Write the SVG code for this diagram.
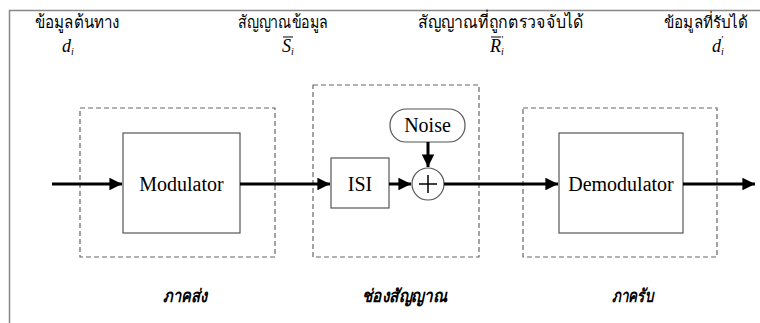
<svg xmlns="http://www.w3.org/2000/svg" width="760" height="323" viewBox="0 0 760 323">
<defs>
<style>
.lat{font-family:"Liberation Serif","Times New Roman",serif;font-size:20px;fill:#000}
.th{font-family:"Liberation Serif","Noto Sans","DejaVu Sans",sans-serif;font-size:18px;fill:#000}
.thb{font-family:"Liberation Serif","Noto Sans","DejaVu Sans",sans-serif;font-size:18px;font-style:italic;font-weight:bold;fill:#000}
.sym{font-family:"Liberation Serif",serif;font-style:italic;font-size:18px;fill:#000}
.sub{font-size:10px}
.dash{fill:none;stroke:#666;stroke-width:1.2;stroke-dasharray:5,3}
.box{fill:#fff;stroke:#555;stroke-width:1.2}
.wire{fill:none;stroke:#000;stroke-width:3}
</style>
<marker id="ah" viewBox="0 0 10 10" refX="10" refY="5" markerWidth="4.2" markerHeight="4.2" markerUnits="strokeWidth" orient="auto">
<path d="M0,0 L10,5 L0,10 Z" fill="#000"/>
</marker>
</defs>
<rect width="760" height="323" fill="#fff"/>
<path d="M9.5,323 V10.5 H760" fill="none" stroke="#888" stroke-width="1.5"/>

<g id="labels-top">
<text class="th" x="35" y="28" textLength="85" lengthAdjust="spacingAndGlyphs">ข้อมูลต้นทาง</text>
<text class="th" x="238" y="28" textLength="90" lengthAdjust="spacingAndGlyphs">สัญญาณข้อมูล</text>
<text class="th" x="418" y="28" textLength="166" lengthAdjust="spacingAndGlyphs">สัญญาณที่ถูกตรวจจับได้</text>
<text class="th" x="664" y="28" style="font-size:16.5px" textLength="84" lengthAdjust="spacingAndGlyphs">ข้อมูลที่รับได้</text>
<text class="sym" x="62" y="52">d<tspan class="sub" dy="3">i</tspan></text>
<text class="sym" x="282" y="52">S<tspan class="sub" dy="3">i</tspan></text>
<path d="M283,37 H293" stroke="#000" stroke-width="1"/>
<text class="sym" x="490" y="52">R<tspan class="sub" dy="3">i</tspan><tspan class="sub" dx="-3" dy="-12">'</tspan></text>
<path d="M491,37 H501" stroke="#000" stroke-width="1"/>
<text class="sym" x="712" y="52">d<tspan class="sub" dy="3">i</tspan><tspan class="sub" dx="-3" dy="-12">'</tspan></text>
</g>

<g id="tx-section">
<rect class="dash" x="80" y="108" width="195" height="149"/>
<text class="thb" x="163" y="302" textLength="44" lengthAdjust="spacingAndGlyphs">ภาคส่ง</text>
</g>
<g id="channel-section">
<rect class="dash" x="313" y="85" width="166" height="172"/>
<text class="thb" x="362" y="302" textLength="85" lengthAdjust="spacingAndGlyphs">ช่องสัญญาณ</text>
</g>
<g id="rx-section">
<rect class="dash" x="523" y="108" width="194" height="149"/>
<text class="thb" x="612" y="302" textLength="41" lengthAdjust="spacingAndGlyphs">ภาครับ</text>
</g>

<g id="modulator">
<rect class="box" x="123" y="133" width="117" height="100"/>
<text class="lat" x="181.5" y="191" text-anchor="middle">Modulator</text>
</g>
<g id="isi">
<rect class="box" x="331" y="158" width="58" height="50"/>
<text class="lat" x="360" y="191" text-anchor="middle">ISI</text>
</g>
<g id="noise">
<rect class="box" x="390" y="109" width="75" height="33" rx="16" ry="16"/>
<text class="lat" x="427.5" y="132" text-anchor="middle">Noise</text>
</g>
<g id="adder">
<circle class="box" cx="428" cy="184" r="16"/>
<path d="M428,175 V193 M419,184 H437" stroke="#000" stroke-width="1.5"/>
</g>
<g id="demodulator">
<rect class="box" x="559" y="133" width="124" height="100"/>
<text class="lat" x="621" y="191" text-anchor="middle">Demodulator</text>
</g>

<g id="connectors">
<path class="wire" d="M52,184 H122" marker-end="url(#ah)"/>
<path class="wire" d="M240,184 H330" marker-end="url(#ah)"/>
<path class="wire" d="M389,184 H411" marker-end="url(#ah)"/>
<path class="wire" d="M428,142 V167" marker-end="url(#ah)"/>
<path class="wire" d="M444,184 H558" marker-end="url(#ah)"/>
<path class="wire" d="M683,184 H755" marker-end="url(#ah)"/>
</g>
</svg>
